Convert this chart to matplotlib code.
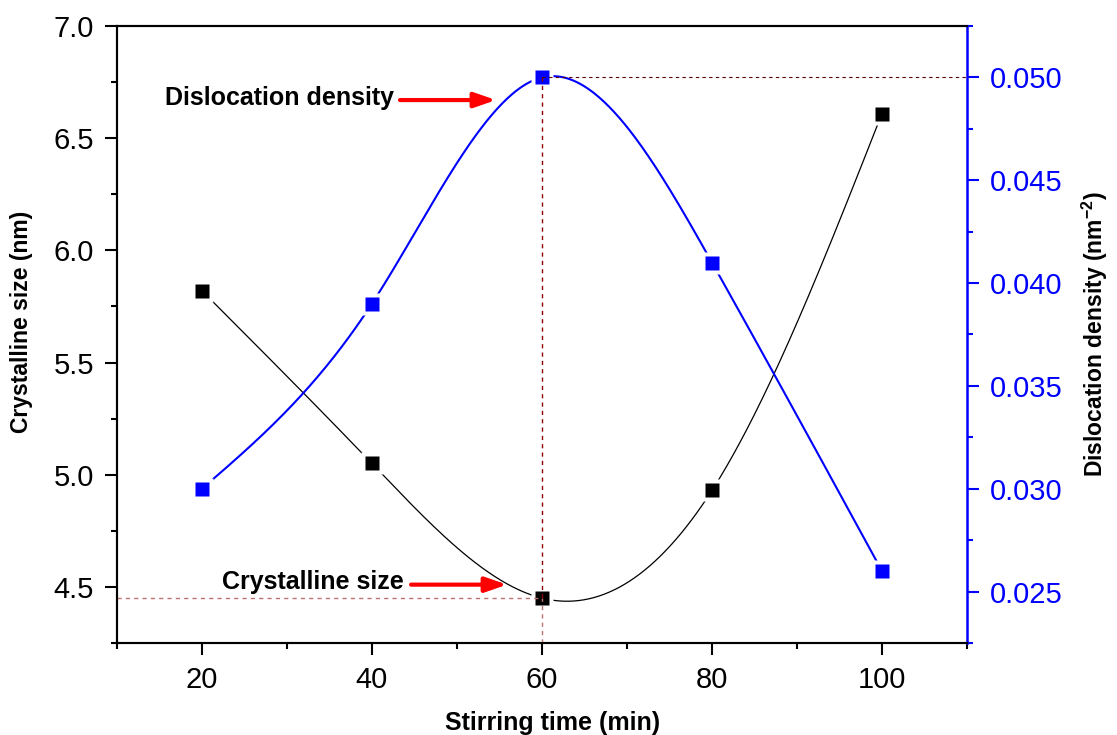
import numpy as np
import matplotlib
matplotlib.use("Agg")
import matplotlib.pyplot as plt
from matplotlib.ticker import MultipleLocator, FormatStrFormatter

plt.rcParams['font.family'] = ['Liberation Sans', 'DejaVu Sans']
plt.rcParams['mathtext.fontset'] = 'custom'
plt.rcParams['mathtext.rm'] = 'Liberation Sans'
plt.rcParams['mathtext.bf'] = 'Liberation Sans:bold'

# ---- data ----
stirring_time = [20, 40, 60, 80, 100]
crystalline_size = [5.82, 5.05, 4.45, 4.93, 6.61]
dislocation_density = [0.030, 0.039, 0.050, 0.041, 0.026]


def natural_spline(x, y, n=400):
    x = np.asarray(x, float); y = np.asarray(y, float)
    k = len(x)
    h = np.diff(x)
    A = np.zeros((k, k)); b = np.zeros(k)
    A[0, 0] = 1; A[-1, -1] = 1
    for i in range(1, k - 1):
        A[i, i - 1] = h[i - 1]
        A[i, i] = 2 * (h[i - 1] + h[i])
        A[i, i + 1] = h[i]
        b[i] = 6 * ((y[i + 1] - y[i]) / h[i] - (y[i] - y[i - 1]) / h[i - 1])
    M = np.linalg.solve(A, b)
    xs = np.linspace(x[0], x[-1], n)
    idx = np.clip(np.searchsorted(x, xs) - 1, 0, k - 2)
    x0 = x[idx]; x1 = x[idx + 1]; hh = x1 - x0
    ys = (M[idx] * (x1 - xs) ** 3 / (6 * hh) + M[idx + 1] * (xs - x0) ** 3 / (6 * hh)
          + (y[idx] / hh - M[idx] * hh / 6) * (x1 - xs)
          + (y[idx + 1] / hh - M[idx + 1] * hh / 6) * (xs - x0))
    return xs, ys


fig = plt.figure(figsize=(11.17, 7.35), dpi=100)
ax = fig.add_axes([0.1047, 0.1252, 0.761, 0.8394])
ax2 = ax.twinx()

# black series
xs, ys = natural_spline(stirring_time, crystalline_size)
ax.plot(xs, ys, color='black', lw=0.9, zorder=2)
ax.plot(stirring_time, crystalline_size, 's', ms=16, mfc='white', mec='none', zorder=3)
ax.plot(stirring_time, crystalline_size, 's', ms=9.5, mfc='black', mec='none', zorder=4)

# blue series
xs2, ys2 = natural_spline(stirring_time, dislocation_density)
ax2.plot(xs2, ys2, color='#0000ff', lw=1.5, zorder=2)
ax2.plot(stirring_time, dislocation_density, 's', ms=16, mfc='white', mec='none', zorder=3)
ax2.plot(stirring_time, dislocation_density, 's', ms=9.5, mfc='#0000ff', mec='none', zorder=4)

# limits
ax.set_xlim(10, 110)
ax.set_ylim(4.25, 7.0)
ax2.set_ylim(0.0225, 0.0525)

# dashed guide lines
peak_x = stirring_time[2]
ax.plot([10, peak_x], [crystalline_size[2]] * 2, ls=(0, (3, 3)), color='#c07070', lw=1, zorder=5)
ax.plot([peak_x, peak_x], [4.25, crystalline_size[2]], ls=(0, (3, 3)), color='#c07070', lw=1, zorder=5)
ax2.plot([peak_x, peak_x], [dislocation_density[2], 0.0225 + (crystalline_size[2] - 4.25) / 2.75 * 0.03],
         ls=(0, (3, 3)), color='#8b0000', lw=1, zorder=5)
ax2.plot([peak_x, 110], [dislocation_density[2]] * 2, ls=(0, (3, 3)), color='#5a0000', lw=0.8, zorder=5)

# ticks
ax.xaxis.set_major_locator(MultipleLocator(20))
ax.xaxis.set_minor_locator(MultipleLocator(10))
ax.yaxis.set_major_locator(MultipleLocator(0.5))
ax.yaxis.set_minor_locator(MultipleLocator(0.25))
ax.yaxis.set_major_formatter(FormatStrFormatter('%.1f'))
ax2.yaxis.set_major_locator(MultipleLocator(0.005))
ax2.yaxis.set_minor_locator(MultipleLocator(0.0025))
ax2.yaxis.set_major_formatter(FormatStrFormatter('%.3f'))

ax.tick_params(axis='both', which='major', direction='out', length=8.5, width=1.5, labelsize=21,
               colors='black', pad=8)
ax.tick_params(axis='both', which='minor', direction='out', length=4.5, width=1.5)
ax2.tick_params(axis='y', which='major', direction='out', length=8.5, width=1.5, labelsize=21,
                colors='#0000ff', pad=8)
ax2.tick_params(axis='y', which='minor', direction='out', length=4.5, width=1.5, colors='#0000ff')

for s in ['left', 'bottom', 'top']:
    ax.spines[s].set_linewidth(1.5)
    ax2.spines[s].set_linewidth(1.5)
ax2.spines['right'].set_color('#0000ff')
ax2.spines['right'].set_linewidth(1.8)
ax.spines['right'].set_visible(False)

ax.set_xlabel('Stirring time (min)', fontsize=18, fontweight='bold')
ax.xaxis.set_label_coords(0.512, -0.11)
ax.set_ylabel('Crystalline size (nm)', fontsize=16.5, fontweight='bold')
ax.yaxis.set_label_coords(-0.099, 0.52)
ax2.set_ylabel(r'Dislocation density (nm$^{\mathbf{-2}}$)', fontsize=16.5, fontweight='bold',
               labelpad=12, color='black')

# annotations
ax.annotate('', xy=(54.6, 6.67), xytext=(43.3, 6.67),
            arrowprops=dict(arrowstyle='-|>,head_length=1.3,head_width=0.45', lw=3, color='#ff0000',
                            shrinkA=0, shrinkB=0), zorder=6)
ax.text(15.6, 6.68, 'Dislocation density', fontsize=18, fontweight='bold', va='center', ha='left')
ax.annotate('', xy=(55.9, 4.51), xytext=(44.6, 4.51),
            arrowprops=dict(arrowstyle='-|>,head_length=1.3,head_width=0.45', lw=3, color='#ff0000',
                            shrinkA=0, shrinkB=0), zorder=6)
ax.text(22.3, 4.52, 'Crystalline size', fontsize=18, fontweight='bold', va='center', ha='left')

fig.savefig('out.png', dpi=100)
